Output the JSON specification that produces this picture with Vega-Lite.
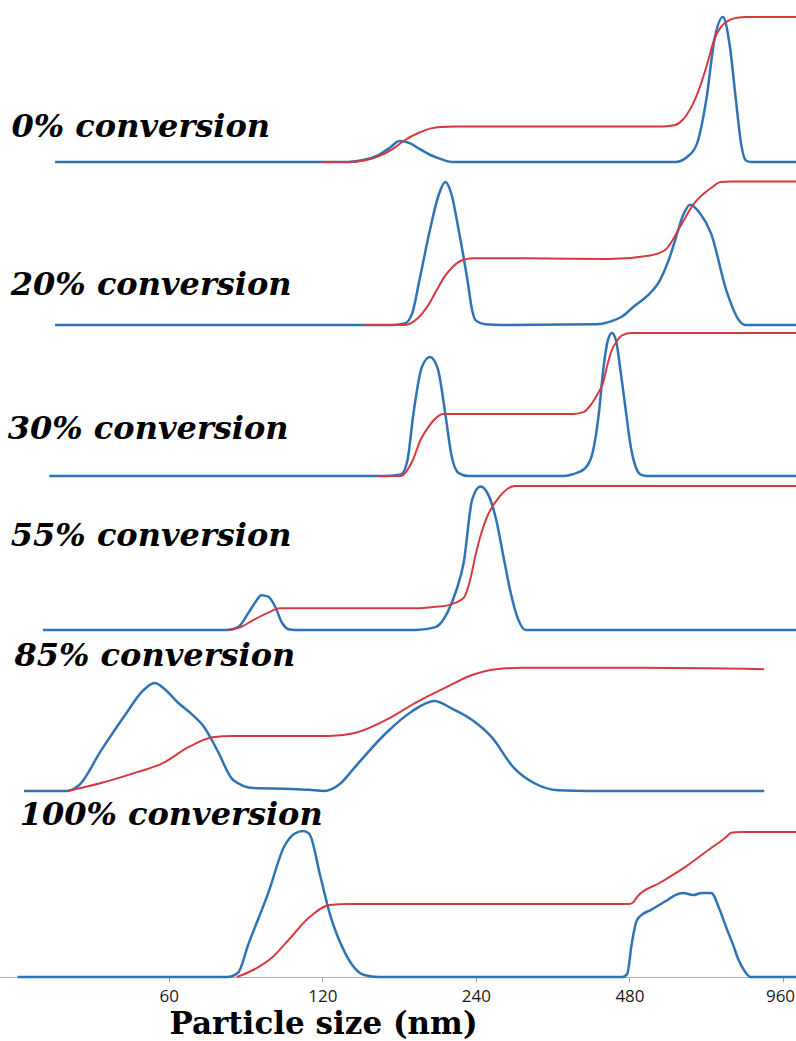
{
  "$schema": "https://vega.github.io/schema/vega-lite/v6.json",
  "padding": 0,
  "spacing": 0,
  "bounds": "flush",
  "config": {"view": {"stroke": null}},
  "datasets": {
    "labels": [
      {"conversion": "0%", "label": "0% conversion"},
      {"conversion": "20%", "label": "20% conversion"},
      {"conversion": "30%", "label": "30% conversion"},
      {"conversion": "55%", "label": "55% conversion"},
      {"conversion": "85%", "label": "85% conversion"},
      {"conversion": "100%", "label": "100% conversion"}
    ],
    "curves": [
      {"conversion": "0%", "curve": "distribution", "size": 35.9, "signal": 0},
      {"conversion": "0%", "curve": "distribution", "size": 135, "signal": 0},
      {"conversion": "0%", "curve": "distribution", "size": 145, "signal": 1.5},
      {"conversion": "0%", "curve": "distribution", "size": 155, "signal": 5},
      {"conversion": "0%", "curve": "distribution", "size": 163, "signal": 10},
      {"conversion": "0%", "curve": "distribution", "size": 170, "signal": 14.5},
      {"conversion": "0%", "curve": "distribution", "size": 178, "signal": 13},
      {"conversion": "0%", "curve": "distribution", "size": 186, "signal": 9},
      {"conversion": "0%", "curve": "distribution", "size": 195, "signal": 5},
      {"conversion": "0%", "curve": "distribution", "size": 205, "signal": 2},
      {"conversion": "0%", "curve": "distribution", "size": 216, "signal": 0},
      {"conversion": "0%", "curve": "distribution", "size": 590, "signal": 0},
      {"conversion": "0%", "curve": "distribution", "size": 620, "signal": 3},
      {"conversion": "0%", "curve": "distribution", "size": 650, "signal": 12},
      {"conversion": "0%", "curve": "distribution", "size": 679, "signal": 43},
      {"conversion": "0%", "curve": "distribution", "size": 705, "signal": 85},
      {"conversion": "0%", "curve": "distribution", "size": 732, "signal": 100},
      {"conversion": "0%", "curve": "distribution", "size": 755, "signal": 80},
      {"conversion": "0%", "curve": "distribution", "size": 776, "signal": 43},
      {"conversion": "0%", "curve": "distribution", "size": 795, "signal": 12},
      {"conversion": "0%", "curve": "distribution", "size": 812, "signal": 1},
      {"conversion": "0%", "curve": "distribution", "size": 830, "signal": 0},
      {"conversion": "0%", "curve": "distribution", "size": 1018, "signal": 0},
      {"conversion": "0%", "curve": "cumulative", "size": 120, "signal": 0},
      {"conversion": "0%", "curve": "cumulative", "size": 135, "signal": 0},
      {"conversion": "0%", "curve": "cumulative", "size": 145, "signal": 1},
      {"conversion": "0%", "curve": "cumulative", "size": 155, "signal": 4},
      {"conversion": "0%", "curve": "cumulative", "size": 165, "signal": 9},
      {"conversion": "0%", "curve": "cumulative", "size": 174, "signal": 15},
      {"conversion": "0%", "curve": "cumulative", "size": 185, "signal": 20},
      {"conversion": "0%", "curve": "cumulative", "size": 195, "signal": 23},
      {"conversion": "0%", "curve": "cumulative", "size": 205, "signal": 24.2},
      {"conversion": "0%", "curve": "cumulative", "size": 220, "signal": 24.5},
      {"conversion": "0%", "curve": "cumulative", "size": 560, "signal": 24.5},
      {"conversion": "0%", "curve": "cumulative", "size": 590, "signal": 25.5},
      {"conversion": "0%", "curve": "cumulative", "size": 610, "signal": 29},
      {"conversion": "0%", "curve": "cumulative", "size": 635, "signal": 38},
      {"conversion": "0%", "curve": "cumulative", "size": 660, "signal": 52},
      {"conversion": "0%", "curve": "cumulative", "size": 685, "signal": 70},
      {"conversion": "0%", "curve": "cumulative", "size": 703, "signal": 84},
      {"conversion": "0%", "curve": "cumulative", "size": 725, "signal": 93},
      {"conversion": "0%", "curve": "cumulative", "size": 750, "signal": 97.5},
      {"conversion": "0%", "curve": "cumulative", "size": 780, "signal": 99.5},
      {"conversion": "0%", "curve": "cumulative", "size": 812, "signal": 100},
      {"conversion": "0%", "curve": "cumulative", "size": 1018, "signal": 100},

      {"conversion": "20%", "curve": "distribution", "size": 35.9, "signal": 0},
      {"conversion": "20%", "curve": "distribution", "size": 165, "signal": 0},
      {"conversion": "20%", "curve": "distribution", "size": 174, "signal": 1},
      {"conversion": "20%", "curve": "distribution", "size": 180, "signal": 8},
      {"conversion": "20%", "curve": "distribution", "size": 186, "signal": 31},
      {"conversion": "20%", "curve": "distribution", "size": 195, "signal": 65.5},
      {"conversion": "20%", "curve": "distribution", "size": 203, "signal": 90},
      {"conversion": "20%", "curve": "distribution", "size": 209, "signal": 98.6},
      {"conversion": "20%", "curve": "distribution", "size": 215, "signal": 90},
      {"conversion": "20%", "curve": "distribution", "size": 222, "signal": 65.5},
      {"conversion": "20%", "curve": "distribution", "size": 231, "signal": 31},
      {"conversion": "20%", "curve": "distribution", "size": 236, "signal": 10},
      {"conversion": "20%", "curve": "distribution", "size": 240, "signal": 3},
      {"conversion": "20%", "curve": "distribution", "size": 250, "signal": 0.5},
      {"conversion": "20%", "curve": "distribution", "size": 270, "signal": 0},
      {"conversion": "20%", "curve": "distribution", "size": 414, "signal": 0.5},
      {"conversion": "20%", "curve": "distribution", "size": 437, "signal": 2},
      {"conversion": "20%", "curve": "distribution", "size": 465, "signal": 6},
      {"conversion": "20%", "curve": "distribution", "size": 489, "signal": 12.6},
      {"conversion": "20%", "curve": "distribution", "size": 520, "signal": 20},
      {"conversion": "20%", "curve": "distribution", "size": 551, "signal": 31},
      {"conversion": "20%", "curve": "distribution", "size": 572, "signal": 44},
      {"conversion": "20%", "curve": "distribution", "size": 590, "signal": 58.6},
      {"conversion": "20%", "curve": "distribution", "size": 612, "signal": 76},
      {"conversion": "20%", "curve": "distribution", "size": 631, "signal": 83},
      {"conversion": "20%", "curve": "distribution", "size": 660, "signal": 77},
      {"conversion": "20%", "curve": "distribution", "size": 694, "signal": 63},
      {"conversion": "20%", "curve": "distribution", "size": 743, "signal": 24},
      {"conversion": "20%", "curve": "distribution", "size": 786, "signal": 3.5},
      {"conversion": "20%", "curve": "distribution", "size": 812, "signal": 0},
      {"conversion": "20%", "curve": "distribution", "size": 1018, "signal": 0},
      {"conversion": "20%", "curve": "cumulative", "size": 145, "signal": 0},
      {"conversion": "20%", "curve": "cumulative", "size": 174, "signal": 0},
      {"conversion": "20%", "curve": "cumulative", "size": 185, "signal": 5},
      {"conversion": "20%", "curve": "cumulative", "size": 193, "signal": 13},
      {"conversion": "20%", "curve": "cumulative", "size": 201, "signal": 24},
      {"conversion": "20%", "curve": "cumulative", "size": 208, "signal": 33},
      {"conversion": "20%", "curve": "cumulative", "size": 216, "signal": 40},
      {"conversion": "20%", "curve": "cumulative", "size": 227, "signal": 45},
      {"conversion": "20%", "curve": "cumulative", "size": 238, "signal": 46},
      {"conversion": "20%", "curve": "cumulative", "size": 300, "signal": 46},
      {"conversion": "20%", "curve": "cumulative", "size": 437, "signal": 45.5},
      {"conversion": "20%", "curve": "cumulative", "size": 527, "signal": 48},
      {"conversion": "20%", "curve": "cumulative", "size": 564, "signal": 51.7},
      {"conversion": "20%", "curve": "cumulative", "size": 603, "signal": 67.6},
      {"conversion": "20%", "curve": "cumulative", "size": 640, "signal": 83},
      {"conversion": "20%", "curve": "cumulative", "size": 694, "signal": 94.5},
      {"conversion": "20%", "curve": "cumulative", "size": 725, "signal": 98.6},
      {"conversion": "20%", "curve": "cumulative", "size": 760, "signal": 99},
      {"conversion": "20%", "curve": "cumulative", "size": 1018, "signal": 99},

      {"conversion": "30%", "curve": "distribution", "size": 35, "signal": 0},
      {"conversion": "30%", "curve": "distribution", "size": 160, "signal": 0},
      {"conversion": "30%", "curve": "distribution", "size": 171, "signal": 1},
      {"conversion": "30%", "curve": "distribution", "size": 176, "signal": 10},
      {"conversion": "30%", "curve": "distribution", "size": 181, "signal": 43},
      {"conversion": "30%", "curve": "distribution", "size": 188, "signal": 75},
      {"conversion": "30%", "curve": "distribution", "size": 195, "signal": 82},
      {"conversion": "30%", "curve": "distribution", "size": 202, "signal": 74},
      {"conversion": "30%", "curve": "distribution", "size": 209, "signal": 43},
      {"conversion": "30%", "curve": "distribution", "size": 215, "signal": 14},
      {"conversion": "30%", "curve": "distribution", "size": 222, "signal": 2},
      {"conversion": "30%", "curve": "distribution", "size": 232, "signal": 0},
      {"conversion": "30%", "curve": "distribution", "size": 356, "signal": 0},
      {"conversion": "30%", "curve": "distribution", "size": 374, "signal": 1.5},
      {"conversion": "30%", "curve": "distribution", "size": 392, "signal": 5},
      {"conversion": "30%", "curve": "distribution", "size": 405, "signal": 14},
      {"conversion": "30%", "curve": "distribution", "size": 418, "signal": 43},
      {"conversion": "30%", "curve": "distribution", "size": 427, "signal": 75},
      {"conversion": "30%", "curve": "distribution", "size": 435, "signal": 93},
      {"conversion": "30%", "curve": "distribution", "size": 443.5, "signal": 98.6},
      {"conversion": "30%", "curve": "distribution", "size": 452, "signal": 93},
      {"conversion": "30%", "curve": "distribution", "size": 460, "signal": 75},
      {"conversion": "30%", "curve": "distribution", "size": 471, "signal": 48},
      {"conversion": "30%", "curve": "distribution", "size": 483, "signal": 20},
      {"conversion": "30%", "curve": "distribution", "size": 494, "signal": 6},
      {"conversion": "30%", "curve": "distribution", "size": 505, "signal": 1},
      {"conversion": "30%", "curve": "distribution", "size": 522, "signal": 0},
      {"conversion": "30%", "curve": "distribution", "size": 1018, "signal": 0},
      {"conversion": "30%", "curve": "cumulative", "size": 154, "signal": 0},
      {"conversion": "30%", "curve": "cumulative", "size": 171, "signal": 0},
      {"conversion": "30%", "curve": "cumulative", "size": 180, "signal": 10},
      {"conversion": "30%", "curve": "cumulative", "size": 187, "signal": 25},
      {"conversion": "30%", "curve": "cumulative", "size": 193, "signal": 33},
      {"conversion": "30%", "curve": "cumulative", "size": 199, "signal": 39},
      {"conversion": "30%", "curve": "cumulative", "size": 207, "signal": 42.8},
      {"conversion": "30%", "curve": "cumulative", "size": 373, "signal": 42.8},
      {"conversion": "30%", "curve": "cumulative", "size": 390, "signal": 44},
      {"conversion": "30%", "curve": "cumulative", "size": 405, "signal": 50},
      {"conversion": "30%", "curve": "cumulative", "size": 418, "signal": 58},
      {"conversion": "30%", "curve": "cumulative", "size": 426, "signal": 64},
      {"conversion": "30%", "curve": "cumulative", "size": 434, "signal": 76},
      {"conversion": "30%", "curve": "cumulative", "size": 443.5, "signal": 87},
      {"conversion": "30%", "curve": "cumulative", "size": 453.7, "signal": 93},
      {"conversion": "30%", "curve": "cumulative", "size": 464, "signal": 97},
      {"conversion": "30%", "curve": "cumulative", "size": 485, "signal": 98.6},
      {"conversion": "30%", "curve": "cumulative", "size": 1018, "signal": 98.6},

      {"conversion": "55%", "curve": "distribution", "size": 34, "signal": 0},
      {"conversion": "55%", "curve": "distribution", "size": 78, "signal": 0},
      {"conversion": "55%", "curve": "distribution", "size": 82, "signal": 2},
      {"conversion": "55%", "curve": "distribution", "size": 86, "signal": 12},
      {"conversion": "55%", "curve": "distribution", "size": 89, "signal": 20},
      {"conversion": "55%", "curve": "distribution", "size": 91, "signal": 24},
      {"conversion": "55%", "curve": "distribution", "size": 94, "signal": 23},
      {"conversion": "55%", "curve": "distribution", "size": 97, "signal": 16},
      {"conversion": "55%", "curve": "distribution", "size": 100, "signal": 5},
      {"conversion": "55%", "curve": "distribution", "size": 103, "signal": 0.5},
      {"conversion": "55%", "curve": "distribution", "size": 106, "signal": 0},
      {"conversion": "55%", "curve": "distribution", "size": 183, "signal": 0},
      {"conversion": "55%", "curve": "distribution", "size": 200, "signal": 2},
      {"conversion": "55%", "curve": "distribution", "size": 211, "signal": 12},
      {"conversion": "55%", "curve": "distribution", "size": 220, "signal": 28},
      {"conversion": "55%", "curve": "distribution", "size": 227, "signal": 46},
      {"conversion": "55%", "curve": "distribution", "size": 236, "signal": 90},
      {"conversion": "55%", "curve": "distribution", "size": 245, "signal": 99},
      {"conversion": "55%", "curve": "distribution", "size": 254, "signal": 93},
      {"conversion": "55%", "curve": "distribution", "size": 263, "signal": 76},
      {"conversion": "55%", "curve": "distribution", "size": 272, "signal": 50},
      {"conversion": "55%", "curve": "distribution", "size": 280, "signal": 27.6},
      {"conversion": "55%", "curve": "distribution", "size": 290, "signal": 8},
      {"conversion": "55%", "curve": "distribution", "size": 300, "signal": 0},
      {"conversion": "55%", "curve": "distribution", "size": 1018, "signal": 0},
      {"conversion": "55%", "curve": "cumulative", "size": 78, "signal": 0},
      {"conversion": "55%", "curve": "cumulative", "size": 83, "signal": 2},
      {"conversion": "55%", "curve": "cumulative", "size": 88, "signal": 7},
      {"conversion": "55%", "curve": "cumulative", "size": 94, "signal": 12},
      {"conversion": "55%", "curve": "cumulative", "size": 99, "signal": 15},
      {"conversion": "55%", "curve": "cumulative", "size": 183, "signal": 15},
      {"conversion": "55%", "curve": "cumulative", "size": 200, "signal": 16},
      {"conversion": "55%", "curve": "cumulative", "size": 211, "signal": 17},
      {"conversion": "55%", "curve": "cumulative", "size": 227, "signal": 22},
      {"conversion": "55%", "curve": "cumulative", "size": 234, "signal": 35},
      {"conversion": "55%", "curve": "cumulative", "size": 240, "signal": 53},
      {"conversion": "55%", "curve": "cumulative", "size": 251, "signal": 76},
      {"conversion": "55%", "curve": "cumulative", "size": 267, "signal": 92},
      {"conversion": "55%", "curve": "cumulative", "size": 286, "signal": 99.3},
      {"conversion": "55%", "curve": "cumulative", "size": 1018, "signal": 99.3},

      {"conversion": "85%", "curve": "distribution", "size": 31.2, "signal": 0},
      {"conversion": "85%", "curve": "distribution", "size": 37.6, "signal": 0},
      {"conversion": "85%", "curve": "distribution", "size": 40, "signal": 4},
      {"conversion": "85%", "curve": "distribution", "size": 44.2, "signal": 28},
      {"conversion": "85%", "curve": "distribution", "size": 49.6, "signal": 54},
      {"conversion": "85%", "curve": "distribution", "size": 53, "signal": 68},
      {"conversion": "85%", "curve": "distribution", "size": 56.3, "signal": 74.5},
      {"conversion": "85%", "curve": "distribution", "size": 59, "signal": 70},
      {"conversion": "85%", "curve": "distribution", "size": 62.5, "signal": 61},
      {"conversion": "85%", "curve": "distribution", "size": 66.5, "signal": 53},
      {"conversion": "85%", "curve": "distribution", "size": 70.4, "signal": 44},
      {"conversion": "85%", "curve": "distribution", "size": 74.7, "signal": 28},
      {"conversion": "85%", "curve": "distribution", "size": 80.2, "signal": 7.6},
      {"conversion": "85%", "curve": "distribution", "size": 88, "signal": 2},
      {"conversion": "85%", "curve": "distribution", "size": 104.3, "signal": 1.4},
      {"conversion": "85%", "curve": "distribution", "size": 113, "signal": 0.8},
      {"conversion": "85%", "curve": "distribution", "size": 121, "signal": 0},
      {"conversion": "85%", "curve": "distribution", "size": 130, "signal": 5},
      {"conversion": "85%", "curve": "distribution", "size": 139, "signal": 16.5},
      {"conversion": "85%", "curve": "distribution", "size": 160, "signal": 40},
      {"conversion": "85%", "curve": "distribution", "size": 180, "signal": 55},
      {"conversion": "85%", "curve": "distribution", "size": 199, "signal": 62},
      {"conversion": "85%", "curve": "distribution", "size": 215, "signal": 57},
      {"conversion": "85%", "curve": "distribution", "size": 236, "signal": 49},
      {"conversion": "85%", "curve": "distribution", "size": 258, "signal": 37},
      {"conversion": "85%", "curve": "distribution", "size": 284, "signal": 16.5},
      {"conversion": "85%", "curve": "distribution", "size": 312, "signal": 5.5},
      {"conversion": "85%", "curve": "distribution", "size": 348, "signal": 0.5},
      {"conversion": "85%", "curve": "distribution", "size": 400, "signal": 0},
      {"conversion": "85%", "curve": "distribution", "size": 882, "signal": 0},
      {"conversion": "85%", "curve": "cumulative", "size": 38, "signal": 0},
      {"conversion": "85%", "curve": "cumulative", "size": 44.2, "signal": 5.5},
      {"conversion": "85%", "curve": "cumulative", "size": 52, "signal": 13},
      {"conversion": "85%", "curve": "cumulative", "size": 58.3, "signal": 19},
      {"conversion": "85%", "curve": "cumulative", "size": 65.4, "signal": 30},
      {"conversion": "85%", "curve": "cumulative", "size": 73, "signal": 37},
      {"conversion": "85%", "curve": "cumulative", "size": 80, "signal": 38},
      {"conversion": "85%", "curve": "cumulative", "size": 124, "signal": 38},
      {"conversion": "85%", "curve": "cumulative", "size": 139, "signal": 40},
      {"conversion": "85%", "curve": "cumulative", "size": 160, "signal": 49},
      {"conversion": "85%", "curve": "cumulative", "size": 183, "signal": 61},
      {"conversion": "85%", "curve": "cumulative", "size": 211, "signal": 72},
      {"conversion": "85%", "curve": "cumulative", "size": 236, "signal": 80},
      {"conversion": "85%", "curve": "cumulative", "size": 263, "signal": 84},
      {"conversion": "85%", "curve": "cumulative", "size": 296, "signal": 85},
      {"conversion": "85%", "curve": "cumulative", "size": 500, "signal": 85},
      {"conversion": "85%", "curve": "cumulative", "size": 882, "signal": 84},

      {"conversion": "100%", "curve": "distribution", "size": 30.3, "signal": 0},
      {"conversion": "100%", "curve": "distribution", "size": 78, "signal": 0},
      {"conversion": "100%", "curve": "distribution", "size": 82, "signal": 3},
      {"conversion": "100%", "curve": "distribution", "size": 86, "signal": 23},
      {"conversion": "100%", "curve": "distribution", "size": 94, "signal": 58},
      {"conversion": "100%", "curve": "distribution", "size": 101, "signal": 90},
      {"conversion": "100%", "curve": "distribution", "size": 106, "signal": 99},
      {"conversion": "100%", "curve": "distribution", "size": 110, "signal": 100.7},
      {"conversion": "100%", "curve": "distribution", "size": 113, "signal": 99},
      {"conversion": "100%", "curve": "distribution", "size": 119, "signal": 69},
      {"conversion": "100%", "curve": "distribution", "size": 124, "signal": 44},
      {"conversion": "100%", "curve": "distribution", "size": 133, "signal": 16.5},
      {"conversion": "100%", "curve": "distribution", "size": 139, "signal": 6},
      {"conversion": "100%", "curve": "distribution", "size": 145, "signal": 1.4},
      {"conversion": "100%", "curve": "distribution", "size": 155, "signal": 0},
      {"conversion": "100%", "curve": "distribution", "size": 465, "signal": 0},
      {"conversion": "100%", "curve": "distribution", "size": 475, "signal": 2},
      {"conversion": "100%", "curve": "distribution", "size": 485, "signal": 23},
      {"conversion": "100%", "curve": "distribution", "size": 496, "signal": 39},
      {"conversion": "100%", "curve": "distribution", "size": 510, "signal": 43.5},
      {"conversion": "100%", "curve": "distribution", "size": 527, "signal": 46},
      {"conversion": "100%", "curve": "distribution", "size": 551, "signal": 50},
      {"conversion": "100%", "curve": "distribution", "size": 575, "signal": 54},
      {"conversion": "100%", "curve": "distribution", "size": 590, "signal": 56.5},
      {"conversion": "100%", "curve": "distribution", "size": 612, "signal": 58},
      {"conversion": "100%", "curve": "distribution", "size": 640, "signal": 56.5},
      {"conversion": "100%", "curve": "distribution", "size": 665, "signal": 58},
      {"conversion": "100%", "curve": "distribution", "size": 694, "signal": 58},
      {"conversion": "100%", "curve": "distribution", "size": 722, "signal": 46},
      {"conversion": "100%", "curve": "distribution", "size": 745, "signal": 33},
      {"conversion": "100%", "curve": "distribution", "size": 765, "signal": 23},
      {"conversion": "100%", "curve": "distribution", "size": 785, "signal": 12},
      {"conversion": "100%", "curve": "distribution", "size": 804, "signal": 5},
      {"conversion": "100%", "curve": "distribution", "size": 830, "signal": 0},
      {"conversion": "100%", "curve": "distribution", "size": 1018, "signal": 0},
      {"conversion": "100%", "curve": "cumulative", "size": 81.5, "signal": 0},
      {"conversion": "100%", "curve": "cumulative", "size": 88, "signal": 5},
      {"conversion": "100%", "curve": "cumulative", "size": 96, "signal": 14},
      {"conversion": "100%", "curve": "cumulative", "size": 103, "signal": 25.5},
      {"conversion": "100%", "curve": "cumulative", "size": 113, "signal": 41},
      {"conversion": "100%", "curve": "cumulative", "size": 124, "signal": 49.7},
      {"conversion": "100%", "curve": "cumulative", "size": 135, "signal": 50.3},
      {"conversion": "100%", "curve": "cumulative", "size": 480, "signal": 50.3},
      {"conversion": "100%", "curve": "cumulative", "size": 490, "signal": 52},
      {"conversion": "100%", "curve": "cumulative", "size": 496, "signal": 55},
      {"conversion": "100%", "curve": "cumulative", "size": 551, "signal": 65},
      {"conversion": "100%", "curve": "cumulative", "size": 618, "signal": 76},
      {"conversion": "100%", "curve": "cumulative", "size": 694, "signal": 89},
      {"conversion": "100%", "curve": "cumulative", "size": 740, "signal": 96},
      {"conversion": "100%", "curve": "cumulative", "size": 760, "signal": 99.5},
      {"conversion": "100%", "curve": "cumulative", "size": 790, "signal": 100},
      {"conversion": "100%", "curve": "cumulative", "size": 1018, "signal": 100}
    ]
  },
  "vconcat": [
    {
      "width": 796, "height": 162,
      "layer": [
        {"data": {"name": "curves"}, "transform": [{"filter": "datum.conversion === '0%' && datum.curve === 'distribution'"}],
         "mark": {"type": "line", "interpolate": "monotone", "color": "#2e74b5", "strokeWidth": 2.5},
         "encoding": {"x": {"field": "size", "type": "quantitative", "scale": {"type": "log", "base": 2, "domain": [28, 1018], "nice": false}, "axis": null},
                      "y": {"field": "signal", "type": "quantitative", "scale": {"domain": [0, 111.7], "nice": false, "zero": false}, "axis": null}}},
        {"data": {"name": "curves"}, "transform": [{"filter": "datum.conversion === '0%' && datum.curve === 'cumulative'"}],
         "mark": {"type": "line", "interpolate": "monotone", "color": "#d63a3f", "strokeWidth": 2},
         "encoding": {"x": {"field": "size", "type": "quantitative", "scale": {"type": "log", "base": 2, "domain": [28, 1018], "nice": false}, "axis": null},
                      "y": {"field": "signal", "type": "quantitative", "scale": {"domain": [0, 111.7], "nice": false, "zero": false}, "axis": null}}},
        {"data": {"name": "labels"}, "transform": [{"filter": "datum.conversion === '0%'"}],
         "mark": {"type": "text", "align": "left", "baseline": "alphabetic", "font": "DejaVu Serif", "fontStyle": "italic", "fontWeight": "bold", "fontSize": 32, "fill": "#000"},
         "encoding": {"x": {"datum": 29.5, "type": "quantitative"}, "y": {"datum": 17, "type": "quantitative"}, "text": {"field": "label"}}}
      ]
    },
    {
      "width": 796, "height": 163,
      "layer": [
        {"data": {"name": "curves"}, "transform": [{"filter": "datum.conversion === '20%' && datum.curve === 'distribution'"}],
         "mark": {"type": "line", "interpolate": "monotone", "color": "#2e74b5", "strokeWidth": 2.5},
         "encoding": {"x": {"field": "size", "type": "quantitative", "scale": {"type": "log", "base": 2, "domain": [28, 1018], "nice": false}, "axis": null},
                      "y": {"field": "signal", "type": "quantitative", "scale": {"domain": [0, 112.4], "nice": false, "zero": false}, "axis": null}}},
        {"data": {"name": "curves"}, "transform": [{"filter": "datum.conversion === '20%' && datum.curve === 'cumulative'"}],
         "mark": {"type": "line", "interpolate": "monotone", "color": "#d63a3f", "strokeWidth": 2},
         "encoding": {"x": {"field": "size", "type": "quantitative", "scale": {"type": "log", "base": 2, "domain": [28, 1018], "nice": false}, "axis": null},
                      "y": {"field": "signal", "type": "quantitative", "scale": {"domain": [0, 112.4], "nice": false, "zero": false}, "axis": null}}},
        {"data": {"name": "labels"}, "transform": [{"filter": "datum.conversion === '20%'"}],
         "mark": {"type": "text", "align": "left", "baseline": "alphabetic", "font": "DejaVu Serif", "fontStyle": "italic", "fontWeight": "bold", "fontSize": 32, "fill": "#000"},
         "encoding": {"x": {"datum": 29.4, "type": "quantitative"}, "y": {"datum": 20.7, "type": "quantitative"}, "text": {"field": "label"}}}
      ]
    },
    {
      "width": 796, "height": 151,
      "layer": [
        {"data": {"name": "curves"}, "transform": [{"filter": "datum.conversion === '30%' && datum.curve === 'distribution'"}],
         "mark": {"type": "line", "interpolate": "monotone", "color": "#2e74b5", "strokeWidth": 2.5},
         "encoding": {"x": {"field": "size", "type": "quantitative", "scale": {"type": "log", "base": 2, "domain": [28, 1018], "nice": false}, "axis": null},
                      "y": {"field": "signal", "type": "quantitative", "scale": {"domain": [0, 104.1], "nice": false, "zero": false}, "axis": null}}},
        {"data": {"name": "curves"}, "transform": [{"filter": "datum.conversion === '30%' && datum.curve === 'cumulative'"}],
         "mark": {"type": "line", "interpolate": "monotone", "color": "#d63a3f", "strokeWidth": 2},
         "encoding": {"x": {"field": "size", "type": "quantitative", "scale": {"type": "log", "base": 2, "domain": [28, 1018], "nice": false}, "axis": null},
                      "y": {"field": "signal", "type": "quantitative", "scale": {"domain": [0, 104.1], "nice": false, "zero": false}, "axis": null}}},
        {"data": {"name": "labels"}, "transform": [{"filter": "datum.conversion === '30%'"}],
         "mark": {"type": "text", "align": "left", "baseline": "alphabetic", "font": "DejaVu Serif", "fontStyle": "italic", "fontWeight": "bold", "fontSize": 32, "fill": "#000"},
         "encoding": {"x": {"datum": 29.0, "type": "quantitative"}, "y": {"datum": 25.5, "type": "quantitative"}, "text": {"field": "label"}}}
      ]
    },
    {
      "width": 796, "height": 154,
      "layer": [
        {"data": {"name": "curves"}, "transform": [{"filter": "datum.conversion === '55%' && datum.curve === 'distribution'"}],
         "mark": {"type": "line", "interpolate": "monotone", "color": "#2e74b5", "strokeWidth": 2.5},
         "encoding": {"x": {"field": "size", "type": "quantitative", "scale": {"type": "log", "base": 2, "domain": [28, 1018], "nice": false}, "axis": null},
                      "y": {"field": "signal", "type": "quantitative", "scale": {"domain": [0, 106.2], "nice": false, "zero": false}, "axis": null}}},
        {"data": {"name": "curves"}, "transform": [{"filter": "datum.conversion === '55%' && datum.curve === 'cumulative'"}],
         "mark": {"type": "line", "interpolate": "monotone", "color": "#d63a3f", "strokeWidth": 2},
         "encoding": {"x": {"field": "size", "type": "quantitative", "scale": {"type": "log", "base": 2, "domain": [28, 1018], "nice": false}, "axis": null},
                      "y": {"field": "signal", "type": "quantitative", "scale": {"domain": [0, 106.2], "nice": false, "zero": false}, "axis": null}}},
        {"data": {"name": "labels"}, "transform": [{"filter": "datum.conversion === '55%'"}],
         "mark": {"type": "text", "align": "left", "baseline": "alphabetic", "font": "DejaVu Serif", "fontStyle": "italic", "fontWeight": "bold", "fontSize": 32, "fill": "#000"},
         "encoding": {"x": {"datum": 29.4, "type": "quantitative"}, "y": {"datum": 58, "type": "quantitative"}, "text": {"field": "label"}}}
      ]
    },
    {
      "width": 796, "height": 161,
      "layer": [
        {"data": {"name": "curves"}, "transform": [{"filter": "datum.conversion === '85%' && datum.curve === 'distribution'"}],
         "mark": {"type": "line", "interpolate": "monotone", "color": "#2e74b5", "strokeWidth": 2.5},
         "encoding": {"x": {"field": "size", "type": "quantitative", "scale": {"type": "log", "base": 2, "domain": [28, 1018], "nice": false}, "axis": null},
                      "y": {"field": "signal", "type": "quantitative", "scale": {"domain": [0, 111], "nice": false, "zero": false}, "axis": null}}},
        {"data": {"name": "curves"}, "transform": [{"filter": "datum.conversion === '85%' && datum.curve === 'cumulative'"}],
         "mark": {"type": "line", "interpolate": "monotone", "color": "#d63a3f", "strokeWidth": 2},
         "encoding": {"x": {"field": "size", "type": "quantitative", "scale": {"type": "log", "base": 2, "domain": [28, 1018], "nice": false}, "axis": null},
                      "y": {"field": "signal", "type": "quantitative", "scale": {"domain": [0, 111], "nice": false, "zero": false}, "axis": null}}},
        {"data": {"name": "labels"}, "transform": [{"filter": "datum.conversion === '85%'"}],
         "mark": {"type": "text", "align": "left", "baseline": "alphabetic", "font": "DejaVu Serif", "fontStyle": "italic", "fontWeight": "bold", "fontSize": 32, "fill": "#000"},
         "encoding": {"x": {"datum": 29.9, "type": "quantitative"}, "y": {"datum": 86, "type": "quantitative"}, "text": {"field": "label"}}}
      ]
    },
    {
      "width": 796, "height": 186,
      "layer": [
        {"data": {"name": "curves"}, "transform": [{"filter": "datum.conversion === '100%' && datum.curve === 'distribution'"}],
         "mark": {"type": "line", "interpolate": "monotone", "color": "#2e74b5", "strokeWidth": 2.5},
         "encoding": {"x": {"field": "size", "type": "quantitative", "scale": {"type": "log", "base": 2, "domain": [28, 1018], "nice": false},
                            "axis": {"values": [60, 120, 240, 480, 960], "format": "d", "grid": false,
                                     "domainColor": "#b0b0b0", "domainWidth": 1, "tickColor": "#a0a0a0", "tickSize": 5,
                                     "labelFont": "Open Sans", "labelFontSize": 17, "labelColor": "#1a1a1a", "labelPadding": 6,
                                     "labelOffset": {"condition": {"test": "datum.value === 960", "value": -3}, "value": 0},
                                     "title": "Particle size (nm)", "titleFont": "DejaVu Serif", "titleFontSize": 31, "titleFontWeight": "bold",
                                     "titleColor": "#000", "titleX": 323, "titleY": 56, "titleBaseline": "alphabetic", "titleAlign": "center"}},
                      "y": {"field": "signal", "type": "quantitative", "scale": {"domain": [0, 128.3], "nice": false, "zero": false}, "axis": null}}},
        {"data": {"name": "curves"}, "transform": [{"filter": "datum.conversion === '100%' && datum.curve === 'cumulative'"}],
         "mark": {"type": "line", "interpolate": "monotone", "color": "#d63a3f", "strokeWidth": 2},
         "encoding": {"x": {"field": "size", "type": "quantitative", "scale": {"type": "log", "base": 2, "domain": [28, 1018], "nice": false}},
                      "y": {"field": "signal", "type": "quantitative", "scale": {"domain": [0, 128.3], "nice": false, "zero": false}, "axis": null}}},
        {"data": {"name": "labels"}, "transform": [{"filter": "datum.conversion === '100%'"}],
         "mark": {"type": "text", "align": "left", "baseline": "alphabetic", "font": "DejaVu Serif", "fontStyle": "italic", "fontWeight": "bold", "fontSize": 32, "fill": "#000"},
         "encoding": {"x": {"datum": 30.6, "type": "quantitative"}, "y": {"datum": 105, "type": "quantitative"}, "text": {"field": "label"}}}
      ]
    }
  ]
}
